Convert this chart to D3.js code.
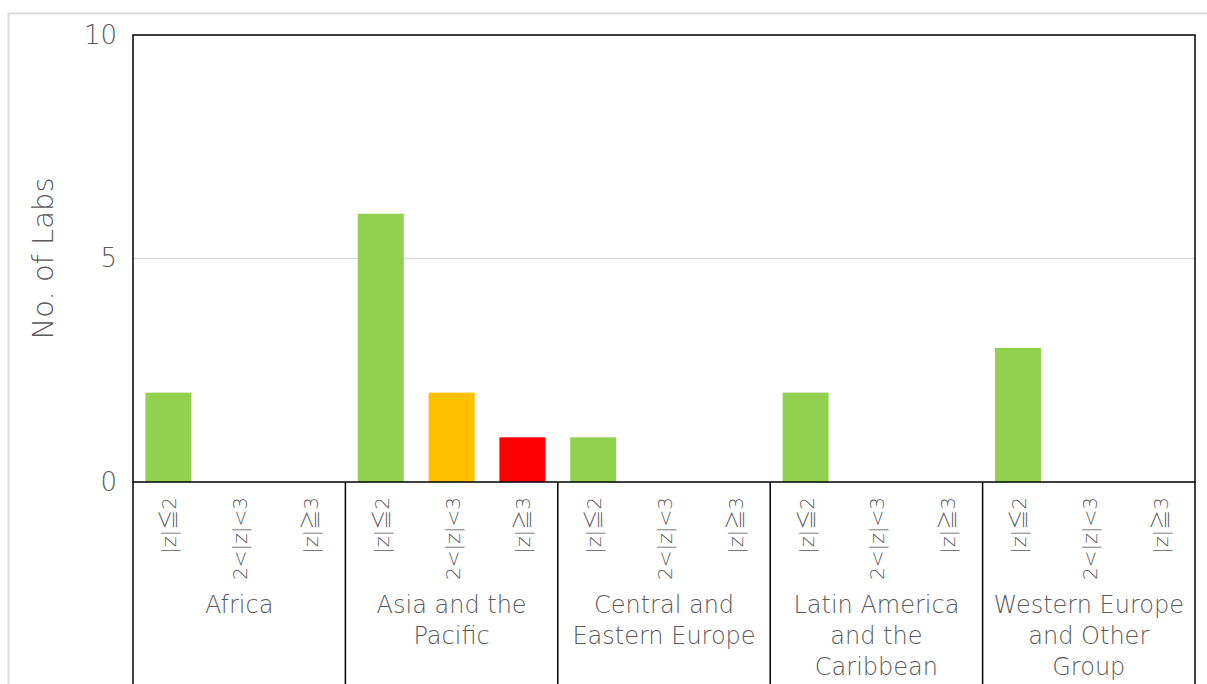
<!DOCTYPE html>
<html>
<head>
<meta charset="utf-8">
<script src="https://cdn.jsdelivr.net/npm/d3@7"></script>
<style>
  body { margin: 0; background: #fff; }
  text { font-family: "DejaVu Sans", "Noto Sans CJK JP", sans-serif; font-weight: 200; fill: #595959; }
</style>
</head>
<body>
<svg id="chart"></svg>
<script>
// data
var groups = ["Africa", "Asia and the Pacific", "Central and Eastern Europe", "Latin America and the Caribbean", "Western Europe and Other Group"];
var groupLines = [["Africa"], ["Asia and the", "Pacific"], ["Central and", "Eastern Europe"], ["Latin America", "and the", "Caribbean"], ["Western Europe", "and Other", "Group"]];
var categories = ["|z|≦2", "2<|z|<3", "|z|≧3"];
var counts = [
  [2, 0, 0],
  [6, 2, 1],
  [1, 0, 0],
  [2, 0, 0],
  [3, 0, 0]
];
var colors = ["#92D050", "#FFC000", "#FF0000"];
var yTicks = [0, 5, 10];

var W = 1207, H = 684;
var margin = {top: 35, right: 12, bottom: 202, left: 133},
    width = W - margin.left - margin.right,
    height = H - margin.top - margin.bottom;

var svg = d3.select("#chart").attr("width", W).attr("height", H);

// outer light frame
svg.append("path")
  .attr("d", "M8.5," + H + "V13.5H" + W)
  .attr("fill", "none")
  .attr("stroke", "#d9d9d9")
  .attr("stroke-width", 2);

var g = svg.append("g")
  .attr("transform", "translate(" + margin.left + "," + margin.top + ")");

var x0 = d3.scaleBand().domain(groups).range([0, width]);
var x1 = d3.scaleBand().domain(categories).range([0, x0.bandwidth()]).paddingInner(0.35).paddingOuter(0.175);
var y = d3.scaleLinear().domain([0, 10]).range([height, 0]);

// gridline at 5
g.append("g")
  .selectAll("line")
  .data(yTicks.filter(function(d) { return d > 0 && d < 10; }))
  .enter().append("line")
  .attr("x1", 0).attr("x2", width)
  .attr("y1", function(d) { return y(d); })
  .attr("y2", function(d) { return y(d); })
  .attr("stroke", "#d9d9d9")
  .attr("stroke-width", 1.5);

// bars
var grp = g.selectAll(".grp")
  .data(groups)
  .enter().append("g")
  .attr("class", "grp")
  .attr("transform", function(d) { return "translate(" + x0(d) + ",0)"; });

grp.selectAll("rect")
  .data(function(d, i) { return categories.map(function(c, j) { return {cat: c, j: j, v: counts[i][j]}; }); })
  .enter().append("rect")
  .attr("x", function(d) { return x1(d.cat); })
  .attr("width", x1.bandwidth())
  .attr("y", function(d) { return y(d.v); })
  .attr("height", function(d) { return height - y(d.v); })
  .attr("fill", function(d) { return colors[d.j]; });

// category labels (rotated)
grp.selectAll(".cat")
  .data(categories)
  .enter().append("text")
  .attr("class", "cat")
  .attr("transform", function(d) {
    return "translate(" + (x1(d) + x1.bandwidth() / 2 + 8) + "," + (height + 15) + ") rotate(-90)";
  })
  .style("text-anchor", "end")
  .style("font-size", "20px")
  .text(function(d) { return d; });

// group labels
grp.append("text")
  .attr("x", x0.bandwidth() / 2)
  .attr("y", height + 131)
  .style("text-anchor", "middle")
  .style("font-size", "24px")
  .selectAll("tspan")
  .data(function(d, i) { return groupLines[i]; })
  .enter().append("tspan")
  .attr("x", x0.bandwidth() / 2)
  .attr("dy", function(d, i) { return i === 0 ? 0 : 31; })
  .text(function(d) { return d; });

// group separators below axis
g.append("g")
  .selectAll("line")
  .data(groups.map(function(d) { return x0(d); }).concat([width]))
  .enter().append("line")
  .attr("x1", function(d) { return d; }).attr("x2", function(d) { return d; })
  .attr("y1", height).attr("y2", H - margin.top)
  .attr("stroke", "#000")
  .attr("stroke-width", 1.5);

// plot frame
g.append("rect")
  .attr("width", width).attr("height", height)
  .attr("fill", "none")
  .attr("stroke", "#000")
  .attr("stroke-width", 1.5);

// y axis
var yAxis = g.append("g")
  .call(d3.axisLeft(y).tickValues(yTicks).tickSize(0).tickPadding(16));
yAxis.select(".domain").remove();
yAxis.selectAll("text")
  .style("font-size", "26px")
  .style("fill", "#595959")
  .style("font-family", "\"DejaVu Sans\", sans-serif")
  .style("font-weight", "200");

svg.append("text")
  .attr("transform", "translate(53," + (margin.top + y(5)) + ") rotate(-90)")
  .style("text-anchor", "middle")
  .style("font-size", "29px")
  .text("No. of Labs");
</script>
</body>
</html>
